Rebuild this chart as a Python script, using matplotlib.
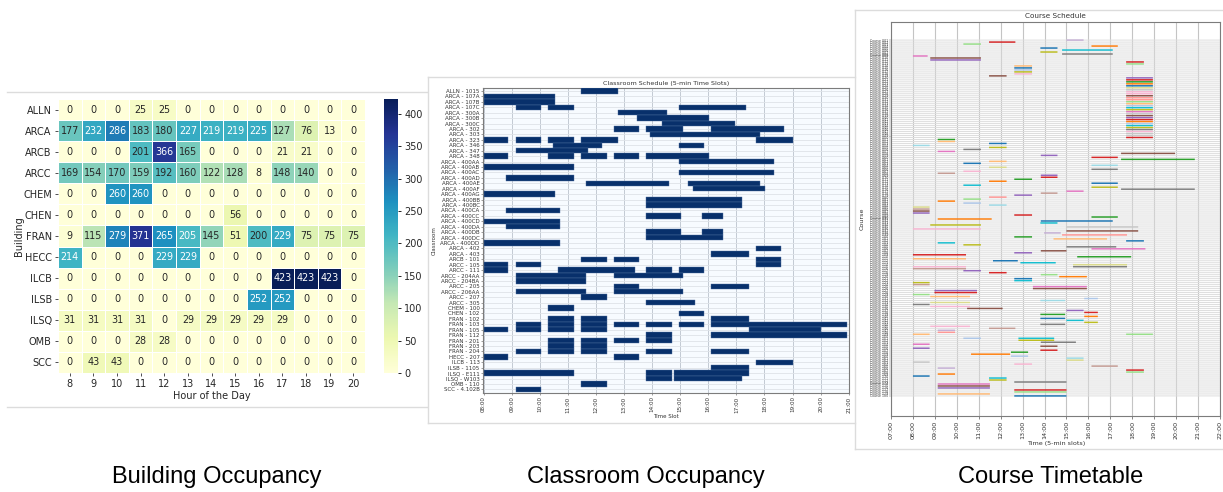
import matplotlib
matplotlib.use("Agg")
import matplotlib.pyplot as plt
import numpy as np
from matplotlib.lines import Line2D

W, H = 1223, 492

# ---------- Building occupancy ----------
buildings = ["ALLN", "ARCA", "ARCB", "ARCC", "CHEM", "CHEN", "FRAN", "HECC", "ILCB", "ILSB", "ILSQ", "OMB", "SCC"]
hours = [8, 9, 10, 11, 12, 13, 14, 15, 16, 17, 18, 19, 20]
occupancy = [
    [0, 0, 0, 25, 25, 0, 0, 0, 0, 0, 0, 0, 0],
    [177, 232, 286, 183, 180, 227, 219, 219, 225, 127, 76, 13, 0],
    [0, 0, 0, 201, 366, 165, 0, 0, 0, 21, 21, 0, 0],
    [169, 154, 170, 159, 192, 160, 122, 128, 8, 148, 140, 0, 0],
    [0, 0, 260, 260, 0, 0, 0, 0, 0, 0, 0, 0, 0],
    [0, 0, 0, 0, 0, 0, 0, 56, 0, 0, 0, 0, 0],
    [9, 115, 279, 371, 265, 205, 145, 51, 200, 229, 75, 75, 75],
    [214, 0, 0, 0, 229, 229, 0, 0, 0, 0, 0, 0, 0],
    [0, 0, 0, 0, 0, 0, 0, 0, 0, 423, 423, 423, 0],
    [0, 0, 0, 0, 0, 0, 0, 0, 252, 252, 0, 0, 0],
    [31, 31, 31, 31, 0, 29, 29, 29, 29, 29, 0, 0, 0],
    [0, 0, 0, 28, 28, 0, 0, 0, 0, 0, 0, 0, 0],
    [0, 43, 43, 0, 0, 0, 0, 0, 0, 0, 0, 0, 0],
]
colorbar_ticks = [0, 50, 100, 150, 200, 250, 300, 350, 400]

# ---------- Classroom occupancy ----------
rooms = ["ALLN - 1015", "ARCA - 107A", "ARCA - 107B", "ARCA - 107C", "ARCA - 300A", "ARCA - 300B", "ARCA - 300C",
         "ARCA - 302", "ARCA - 303", "ARCA - 323", "ARCA - 346", "ARCA - 347", "ARCA - 348", "ARCA - 400AA",
         "ARCA - 400AB", "ARCA - 400AC", "ARCA - 400AD", "ARCA - 400AE", "ARCA - 400AF", "ARCA - 400AG",
         "ARCA - 400BB", "ARCA - 400BC", "ARCA - 400CA", "ARCA - 400CC", "ARCA - 400CD", "ARCA - 400DA",
         "ARCA - 400DB", "ARCA - 400DC", "ARCA - 400DD", "ARCA - 402", "ARCA - 403", "ARCB - 101", "ARCC - 105",
         "ARCC - 111", "ARCC - 204AA", "ARCC - 204BA", "ARCC - 205", "ARCC - 206AA", "ARCC - 207", "ARCC - 305",
         "CHEM - 100", "CHEN - 102", "FRAN - 102", "FRAN - 103", "FRAN - 105", "FRAN - 112", "FRAN - 201",
         "FRAN - 203", "FRAN - 204", "HECC - 207", "ILCB - 113", "ILSB - 1105", "ILSQ - E111", "ILSQ - W103",
         "OMB - 110", "SCC - 4.102B"]
room_rows = [0, 1, 2, 3, 3, 3, 4, 5, 6, 7, 7, 7, 8, 9, 9, 9, 9, 9,
             10, 10, 11, 12, 12, 12, 12, 12, 13, 14, 15, 16, 17, 17, 18, 19, 20, 21,
             22, 23, 23, 24, 25, 26, 26, 27, 28, 29, 30, 31, 31, 31, 32, 32, 32, 33,
             33, 33, 33, 34, 34, 35, 36, 36, 37, 37, 38, 39, 40, 41, 42, 42, 42,
             43, 43, 43, 43, 43, 43, 43, 44, 44, 44, 44, 44, 45, 45, 46, 46, 46, 46,
             47, 47, 48, 48, 48, 48, 48, 49, 49, 50, 51, 52, 52, 52, 53, 53, 54, 55]
room_start = [11.47, 8.00, 8.00, 9.14, 10.30, 14.96, 12.80, 13.46, 14.36, 12.63, 13.78, 16.11, 13.94, 8.00, 9.14, 10.30, 11.47, 17.70,
              10.47, 14.96, 9.14, 8.00, 10.30, 11.47, 12.63, 13.78, 14.96, 8.00, 14.96, 8.81, 11.63, 15.28, 15.44, 8.00, 13.78, 13.78,
              8.81, 13.78, 15.78, 8.00, 8.81, 13.78, 15.78, 13.78, 8.00, 17.70, 16.11, 11.47, 12.63, 17.70, 8.00, 9.14, 17.70, 8.00,
              10.64, 13.78, 14.96, 9.14, 12.63, 9.14, 12.63, 16.11, 9.14, 12.63, 11.47, 13.78, 10.30, 14.96, 10.30, 11.47, 16.11,
              9.14, 10.30, 11.47, 12.63, 13.78, 14.96, 16.11, 8.00, 9.14, 10.30, 11.47, 17.44, 13.78, 16.11, 10.30, 11.47, 12.63, 13.78,
              10.30, 11.47, 9.14, 10.30, 11.47, 13.78, 16.11, 8.00, 12.63, 17.70, 16.11, 8.00, 13.78, 14.79, 13.78, 14.79, 11.47, 9.14]
room_end = [12.80, 10.55, 10.55, 10.05, 11.22, 17.36, 14.53, 16.03, 16.94, 13.55, 15.11, 18.69, 17.85, 8.88, 10.05, 11.22, 12.80, 19.02,
            12.20, 15.86, 11.72, 8.88, 11.22, 12.38, 13.55, 16.03, 18.35, 11.22, 18.35, 11.22, 14.61, 17.85, 18.02, 10.55, 17.19, 17.19,
            10.71, 15.03, 16.53, 10.71, 10.71, 15.03, 16.53, 16.53, 10.71, 18.60, 17.44, 12.38, 13.55, 18.60, 8.88, 10.05, 18.60, 8.88,
            13.38, 14.70, 15.86, 11.63, 15.11, 11.63, 13.55, 17.44, 11.63, 15.11, 12.38, 15.53, 11.22, 15.86, 11.22, 12.38, 17.44,
            10.05, 11.22, 12.38, 13.55, 14.70, 15.86, 20.94, 8.88, 10.05, 11.22, 12.38, 20.00, 14.70, 20.94, 11.22, 12.38, 13.55, 14.70,
            11.22, 12.38, 10.05, 11.22, 12.38, 14.70, 17.44, 8.88, 13.55, 19.02, 17.44, 11.22, 14.70, 17.44, 14.70, 17.19, 12.38, 10.05]
room_ticks = ["08:00", "09:00", "10:00", "11:00", "12:00", "13:00", "14:00", "15:00", "16:00", "17:00", "18:00", "19:00", "20:00", "21:00"]

# ---------- Course timetable ----------
# Row labels are too small to read in the reference, so they are neutral placeholders.
course_labels = [f"Course {i + 1:03d}" for i in range(180)]
course_ticks = ["07:00", "08:00", "09:00", "10:00", "11:00", "12:00", "13:00", "14:00", "15:00", "16:00", "17:00", "18:00", "19:00", "20:00", "21:00", "22:00"]
course_rows = [0, 1, 2, 3, 4, 5, 6, 7, 8, 9,
               10, 11, 12, 13, 14, 15, 16, 17, 18, 50,
               51, 52, 53, 54, 55, 56, 57, 58, 59, 60,
               61, 62, 63, 64, 65, 66, 67, 68, 69, 70,
               71, 72, 73, 74, 75, 76, 77, 78, 79, 80,
               81, 82, 83, 84, 85, 86, 87, 88, 89, 90,
               91, 92, 93, 94, 95, 96, 97, 98, 99, 100,
               101, 102, 103, 104, 105, 106, 107, 108, 109, 110,
               111, 112, 113, 114, 114, 115, 116, 117, 118, 119,
               120, 121, 122, 123, 124, 125, 126, 127, 128, 129,
               130, 131, 132, 133, 134, 135, 136, 137, 138, 139,
               140, 141, 142, 143, 144, 145, 146, 147, 148, 148,
               150, 150, 151, 152, 153, 154, 155, 156, 157, 158,
               159, 160, 161, 162, 163, 164, 165, 166, 167, 168,
               169, 170, 171, 172, 173, 174, 175, 176, 177, 178,
               179]
course_start = [15.00, 11.47, 10.30, 16.14, 13.81, 14.80, 13.81, 14.80, 8.00, 8.79,
                8.79, 17.72, 17.72, 12.62, 12.62, 12.62, 12.62, 12.62, 11.47, 9.13,
                9.13, 11.47, 8.00, 11.47, 10.30, 9.13, 17.49, 13.83, 16.14, 17.49,
                11.47, 10.30, 16.14, 11.47, 16.14, 10.30, 9.13, 13.83, 13.83, 12.62,
                11.47, 16.14, 10.30, 16.14, 17.49, 15.00, 13.83, 12.62, 11.47, 10.30,
                9.13, 10.30, 11.47, 8.00, 8.00, 8.00, 8.00, 12.62, 16.14, 9.13,
                13.83, 13.81, 8.79, 15.00, 8.00, 15.00, 13.98, 14.80, 12.62, 14.41,
                17.72, 9.13, 10.30, 15.00, 16.14, 13.83, 12.62, 8.00, 15.49, 8.00,
                11.65, 12.90, 15.30, 15.30, 8.00, 8.00, 10.30, 11.47, 13.83, 14.67,
                12.62, 12.62, 8.00, 8.00, 13.47, 13.47, 8.98, 8.98, 8.00, 8.79,
                15.81, 13.81, 8.79, 8.00, 8.79, 10.47, 15.00, 15.81, 13.81, 15.81,
                13.81, 15.00, 15.81, 13.81, 8.79, 11.47, 9.13, 9.13, 17.72, 8.00,
                10.30, 12.81, 12.81, 13.83, 8.00, 13.81, 8.00, 13.81, 12.47, 10.65,
                12.47, 15.00, 15.00, 8.00, 12.62, 16.14, 9.13, 17.72, 17.72, 9.13,
                8.00, 11.47, 11.47, 12.62, 9.13, 9.13, 9.13, 12.62, 12.62, 9.13,
                12.62]
course_end = [15.78, 12.67, 11.10, 17.34, 14.59, 17.11, 14.59, 17.11, 8.67, 11.10,
              11.10, 18.53, 18.53, 13.43, 13.43, 13.43, 13.43, 13.43, 12.27, 9.92,
              9.92, 12.27, 8.76, 12.27, 11.10, 9.92, 19.95, 14.59, 17.34, 20.85,
              12.27, 11.10, 17.34, 12.27, 17.34, 11.10, 9.92, 14.59, 14.59, 13.43,
              12.27, 17.34, 11.10, 17.34, 20.85, 15.78, 14.59, 13.43, 12.27, 11.10,
              9.92, 11.10, 12.27, 8.76, 8.76, 8.76, 8.76, 13.43, 17.34, 11.59,
              17.11, 14.59, 11.10, 18.27, 11.10, 18.27, 14.74, 17.76, 13.43, 16.85,
              18.53, 9.92, 11.10, 17.27, 18.60, 15.00, 13.43, 10.42, 17.95, 10.42,
              12.78, 14.51, 17.76, 17.76, 10.42, 10.42, 11.10, 12.27, 14.59, 15.93,
              13.43, 13.43, 8.76, 8.76, 15.93, 15.93, 10.92, 10.92, 8.76, 10.60,
              16.43, 14.94, 10.60, 8.76, 10.60, 12.09, 15.78, 16.43, 14.94, 16.43,
              14.94, 15.78, 16.43, 14.94, 10.60, 12.67, 9.92, 9.92, 18.94, 8.76,
              11.10, 14.44, 14.44, 15.43, 8.76, 14.59, 8.76, 14.59, 13.25, 12.43,
              13.25, 15.78, 15.78, 8.76, 13.43, 17.34, 9.92, 18.53, 18.53, 9.92,
              8.76, 12.27, 12.27, 15.00, 11.51, 11.51, 11.51, 15.00, 15.00, 11.51,
              15.00]
course_tone = [9, 6, 5, 2, 0, 18, 16, 14, 12, 10,
               8, 6, 5, 3, 0, 1, 16, 13, 10, 4,
               3, 0, 19, 16, 14, 12, 10, 8, 6, 4,
               3, 0, 19, 17, 14, 13, 11, 8, 6, 4,
               2, 0, 18, 16, 14, 12, 11, 8, 7, 5,
               2, 1, 19, 17, 11, 10, 8, 6, 4, 2,
               0, 18, 16, 15, 13, 10, 9, 7, 4, 3,
               0, 18, 16, 14, 12, 10, 8, 6, 4, 3,
               0, 18, 17, 14, 13, 11, 8, 6, 5, 2,
               0, 18, 16, 11, 12, 10, 8, 6, 5, 3,
               1, 19, 17, 14, 13, 10, 8, 6, 4, 2,
               0, 18, 16, 14, 13, 11, 9, 7, 5, 3,
               1, 18, 16, 14, 12, 10, 8, 6, 4, 2,
               1, 19, 17, 15, 13, 11, 9, 6, 5, 2,
               0, 18, 16, 14, 12, 10, 8, 6, 5, 3,
               0]
evening_rows = list(range(19, 50))
evening_start = 17.72
evening_end = 18.94
evening_tone = [8, 6, 4, 2, 0, 17, 15, 13, 13, 10, 7, 7, 5, 3, 1, 18, 16, 12, 15, 10, 8, 6, 2, 1, 18, 16, 14, 13, 15, 15, 6]
tones = plt.get_cmap("tab20").colors

panel_titles = ["Building Occupancy", "Classroom Occupancy", "Course Timetable"]

# ---------- Layout helpers ----------
fig = plt.figure(figsize=(W / 100, H / 100), dpi=100, facecolor="white")


def axes_px(left, top, right, bottom):
    return fig.add_axes([left / W, 1 - bottom / H, (right - left) / W, (bottom - top) / H])


def frame_line(x0, y0, x1, y1):
    fig.add_artist(Line2D([x0 / W, x1 / W], [1 - y0 / H, 1 - y1 / H], color="#dcdcdc", lw=1.0))


def fig_text(x, y, s, **kw):
    fig.text(x / W, 1 - y / H, s, **kw)


frame_line(7, 92, 427, 92)
frame_line(7, 407, 427, 407)
frame_line(427.5, 76.5, 854.5, 76.5)
frame_line(427.5, 76.5, 427.5, 423)
frame_line(427.5, 423, 854.5, 423)
frame_line(854.5, 9.5, 854.5, 449)
frame_line(854.5, 9.5, 1223, 9.5)
frame_line(854.5, 449, 1223, 449)

# ---------- Heatmap ----------
ax = axes_px(58, 99, 365, 373)
values = np.array(occupancy)
mesh = ax.pcolormesh(values, cmap="YlGnBu", vmin=0, vmax=423, edgecolors="white", linewidth=0.5)
ax.set_ylim(len(buildings), 0)
ax.set_xlim(0, len(hours))
for r, row in enumerate(occupancy):
    for c, v in enumerate(row):
        ax.text(c + 0.5, r + 0.5, str(v), ha="center", va="center", fontsize=6.9,
                color="white" if v >= 205 else "#262626")
ax.set_xticks(np.arange(len(hours)) + 0.5, [str(h) for h in hours], fontsize=7)
ax.set_yticks(np.arange(len(buildings)) + 0.5, buildings, fontsize=7)
ax.tick_params(length=2.5, width=0.6, pad=2, color="#333333", labelcolor="#262626")
ax.set_xlabel("Hour of the Day", fontsize=7, color="#262626", labelpad=1.5)
ax.set_ylabel("Building", fontsize=7, color="#262626", labelpad=-1)
for s in ax.spines.values():
    s.set_visible(False)

cax = axes_px(384, 99, 398, 373)
cb = fig.colorbar(mesh, cax=cax)
cb.set_ticks(colorbar_ticks)
cb.ax.tick_params(length=2.5, width=0.6, pad=2, labelsize=7, labelcolor="#262626")
cb.outline.set_visible(False)

# ---------- Classroom schedule ----------
ax = axes_px(483, 88, 849, 393)
ax.set_facecolor("#f7fbff")
ax.barh(room_rows, np.array(room_end) - np.array(room_start), left=room_start, height=1.0,
        color="#08306b", edgecolor="#4f6f9f", linewidth=0.3, zorder=3)
ax.set_xlim(7.98, 21.01)
ax.set_ylim(55.65, -0.55)
ax.set_yticks(range(len(rooms)), rooms, fontsize=4.0)
ax.set_xticks(range(8, 22), room_ticks, fontsize=4.1, rotation=90)
ax.tick_params(length=1.5, width=0.4, pad=1, labelcolor="#333333", color="#555555")
ax.grid(True, axis="x", color="#c3cad3", lw=0.7, zorder=1)
ax.grid(True, axis="y", color="#dfe3e8", lw=0.6, zorder=1)
ax.set_axisbelow(True)
for s in ax.spines.values():
    s.set_color("#7c7c7c")
    s.set_linewidth(0.8)
fig_text(666, 83, "Classroom Schedule (5-min Time Slots)", ha="center", va="center", fontsize=4.6, color="#333333")
fig_text(666, 416, "Time Slot", ha="center", va="center", fontsize=4, color="#333333")
fig_text(434, 241, "Classroom", ha="center", va="center", rotation=90, fontsize=4, color="#333333")

# ---------- Course timetable ----------
ax = axes_px(891, 22.3, 1220, 415.7)
all_bars = [
    ax.barh(course_rows, np.array(course_end) - np.array(course_start), left=course_start, height=0.75,
            color=[tones[t] for t in course_tone], zorder=3),
    ax.barh(evening_rows, evening_end - evening_start, left=evening_start, height=0.75,
            color=[tones[t] for t in evening_tone], zorder=3),
]
for bars in all_bars:
    for patch in bars:
        patch.set_snap(False)
ax.set_xlim(7, 22)
ax.set_ylim(188.95, -8.95)
ax.set_yticks(range(len(course_labels)), course_labels, fontsize=2.3)
ax.set_xticks(range(7, 23), course_ticks, fontsize=4.6, rotation=90)
ax.tick_params(axis="y", length=1.2, width=0.3, pad=0.8, labelcolor="#444444", color="#666666")
ax.tick_params(axis="x", length=2, width=0.5, pad=1.5, labelcolor="#333333", color="#555555")
ax.grid(True, axis="x", color="#c4c4c4", lw=0.8, zorder=2)
ax.grid(True, axis="y", color="#dedede", lw=0.72, zorder=1)
for line in ax.get_ygridlines():
    line.set_snap(False)
ax.set_axisbelow(True)
for s in ax.spines.values():
    s.set_color("#7c7c7c")
    s.set_linewidth(0.8)
fig_text(1055.5, 16, "Course Schedule", ha="center", va="center", fontsize=5.2, color="#333333")
fig_text(1056, 443, "Time (5-min slots)", ha="center", va="center", fontsize=4.6, color="#333333")
fig_text(862, 219, "Course", ha="center", va="center", rotation=90, fontsize=4.6, color="#333333")

# ---------- Panel captions ----------
for x, title in zip([217, 646, 1051], panel_titles):
    fig_text(x, 477, title, ha="center", va="center", fontsize=17, family="Liberation Sans", color="#000000")

fig.savefig("out.png", dpi=100)
